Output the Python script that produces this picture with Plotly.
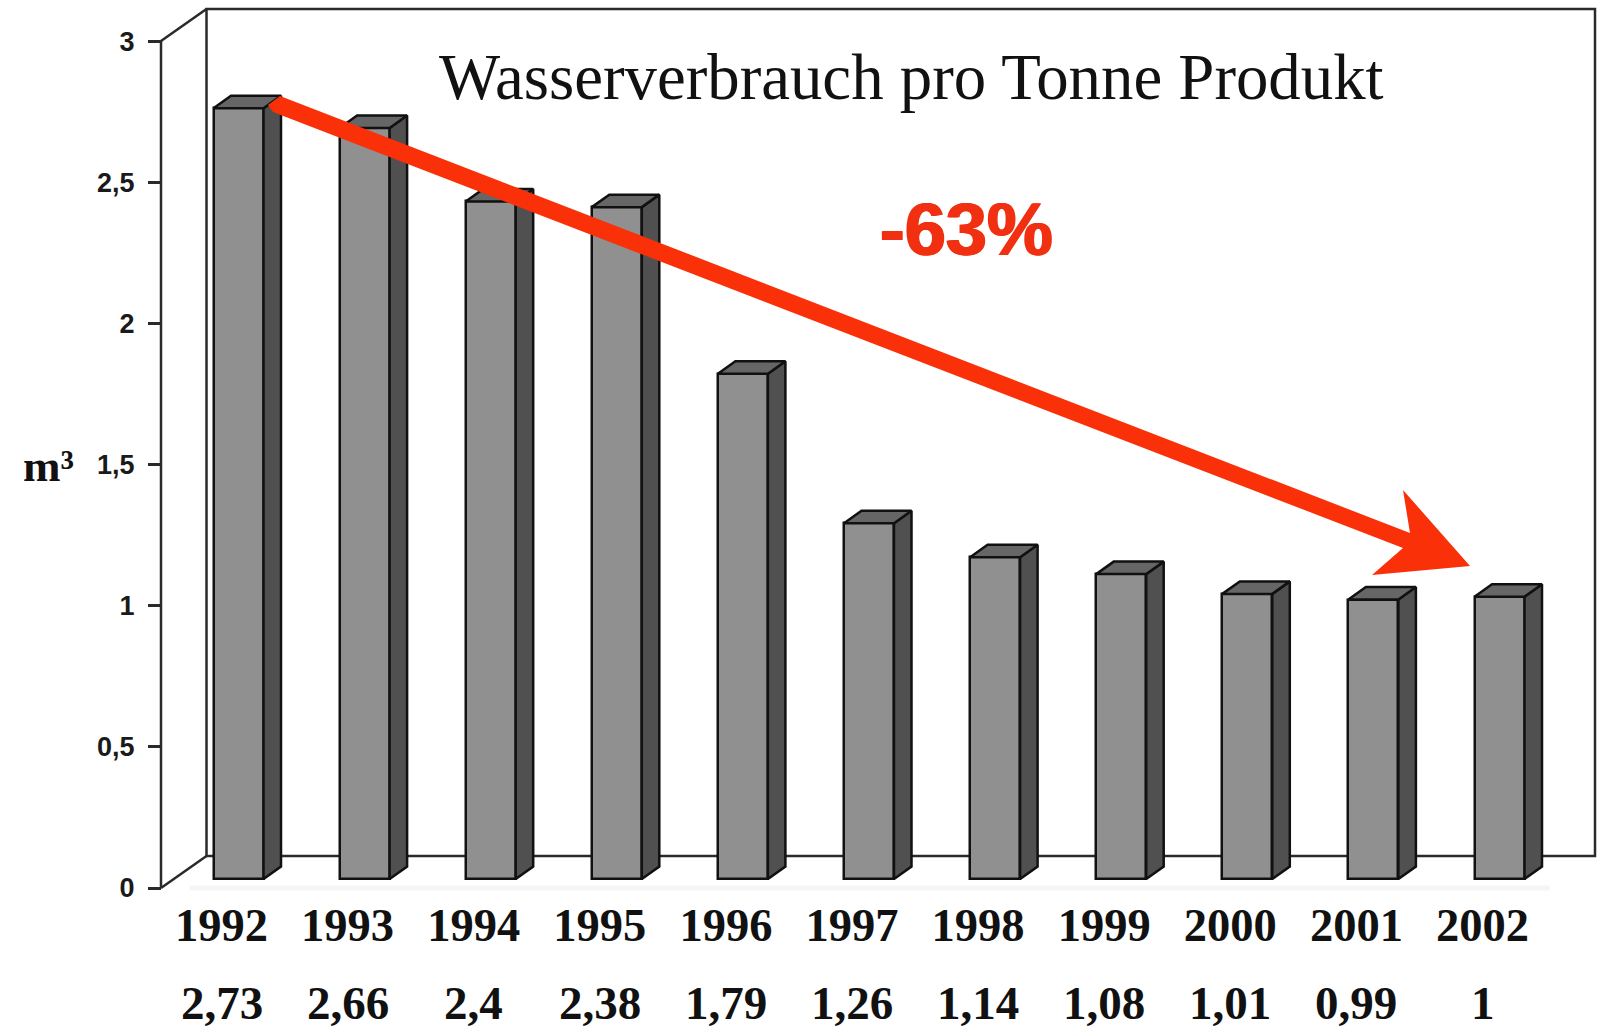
import plotly.graph_objects as go

years = [1992, 1993, 1994, 1995, 1996, 1997, 1998, 1999, 2000, 2001, 2002]
values = [2.73, 2.66, 2.4, 2.38, 1.79, 1.26, 1.14, 1.08, 1.01, 0.99, 1.0]
y_ticks = [0, 0.5, 1, 1.5, 2, 2.5, 3]

W, H = 1597, 1033
PX_PER_YEAR = 126.1
PX_PER_UNIT = 282.3
FIRST_BAR_PX = 238.5
BASE_PX = 879
BAR_W = 50 / PX_PER_YEAR
DX = 17.5 / PX_PER_YEAR
DY = 12.5 / PX_PER_UNIT
LABEL_SHIFT = -17 / PX_PER_YEAR

x0 = years[0] - FIRST_BAR_PX / PX_PER_YEAR
x1 = x0 + W / PX_PER_YEAR
y0 = -(H - BASE_PX) / PX_PER_UNIT
y1 = BASE_PX / PX_PER_UNIT


def fmt(v):
    return f"{v:g}".replace(".", ",")


def px(x):
    return x / W


def py(y):
    return 1 - y / H


fig = go.Figure()

# front faces
fig.add_trace(go.Bar(
    x=years, y=values, width=BAR_W,
    marker=dict(color="#909090", line=dict(color="#111111", width=2.5)),
    hoverinfo="x+y", showlegend=False,
))

# side and top faces derive from the same values
side_x, side_y, top_x, top_y = [], [], [], []
for yr, v in zip(years, values):
    r = yr + BAR_W / 2
    l = yr - BAR_W / 2
    side_x += [r, r + DX, r + DX, r, r, None]
    side_y += [0, DY, v + DY, v, 0, None]
    top_x += [l, l + DX, r + DX, r, l, None]
    top_y += [v, v + DY, v + DY, v, v, None]

for xs, ys, col in ((side_x, side_y, "#505050"), (top_x, top_y, "#666666")):
    fig.add_trace(go.Scatter(
        x=xs, y=ys, mode="lines", fill="toself", fillcolor=col,
        line=dict(color="#111111", width=2.5), hoverinfo="skip", showlegend=False,
    ))

# carries the visible value axis, which sits in front of the bars' floor
fig.add_trace(go.Scatter(
    x=[years[0]], y=[0], yaxis="y2", mode="markers",
    marker=dict(opacity=0), hoverinfo="skip", showlegend=False,
))

LINE = dict(color="#2a2a2a", width=2.5)
shapes = [
    # pale floor shadow
    dict(type="line", xref="paper", yref="paper", layer="below",
         x0=px(190), x1=px(1550), y0=py(888), y1=py(888),
         line=dict(color="#f5f5f5", width=5)),
    # back wall
    dict(type="path", xref="paper", yref="paper", layer="below",
         path=f"M {px(206.5)} {py(856)} L {px(206.5)} {py(9)} L {px(1595)} {py(9)} "
              f"L {px(1595)} {py(856)} Z",
         line=LINE),
    # side wall diagonals
    dict(type="line", xref="paper", yref="paper", layer="below",
         x0=px(161), x1=px(206.5), y0=py(41), y1=py(9), line=LINE),
    dict(type="line", xref="paper", yref="paper", layer="below",
         x0=px(161), x1=px(206.5), y0=py(888), y1=py(856), line=LINE),
    dict(type="line", xref="paper", yref="paper", layer="below",
         x0=px(161), x1=px(161), y0=py(888), y1=py(41), line=LINE),
]

arrow = [(280, 96), (1410, 533), (1403, 490), (1470, 566), (1372, 575),
         (1403, 548), (273, 112), (268, 105)]
shapes.append(dict(
    type="path", xref="paper", yref="paper", layer="above",
    path="M " + " L ".join(f"{px(a)} {py(b)}" for a, b in arrow) + " Z",
    fillcolor="#f93008", line=dict(width=0),
))

annotations = [
    dict(text="Wasserverbrauch pro Tonne Produkt", xref="paper", yref="paper",
         x=px(911), y=py(77), showarrow=False, xanchor="center", yanchor="middle",
         font=dict(family="Liberation Serif", size=64.8, color="#111111")),
    dict(text="<b>-63%</b>", xref="paper", yref="paper",
         x=px(966), y=py(229), showarrow=False, xanchor="center", yanchor="middle",
         font=dict(family="Liberation Sans", size=74, color="#f03010",
                   shadow="1px 0 0 #f03010, -1px 0 0 #f03010")),
    dict(text="<b>m³</b>", xref="paper", yref="paper",
         x=px(48), y=py(466), showarrow=False, xanchor="center", yanchor="middle",
         font=dict(family="Liberation Serif", size=45, color="#111111")),
]
for yr, v in zip(years, values):
    annotations.append(dict(
        text=f"<b>{fmt(v)}</b>", xref="x", yref="paper",
        x=yr + LABEL_SHIFT, y=py(1003), showarrow=False,
        xanchor="center", yanchor="middle",
        font=dict(family="Liberation Serif", size=47, color="#111111"),
    ))

fig.update_layout(
    width=W, height=H, autosize=False,
    margin=dict(l=0, r=0, t=0, b=0),
    paper_bgcolor="white", plot_bgcolor="rgba(0,0,0,0)",
    showlegend=False, bargap=0,
    xaxis=dict(
        range=[x0, x1], domain=[0, 1], anchor="free", position=py(893),
        tickvals=[yr + LABEL_SHIFT for yr in years],
        ticktext=[f"<b>{yr}</b>" for yr in years],
        tickfont=dict(family="Liberation Serif", size=46.5, color="#111111"),
        ticks="", showgrid=False, zeroline=False, showline=False, tickangle=0,
    ),
    yaxis=dict(range=[y0, y1], domain=[0, 1], visible=False, fixedrange=True),
    yaxis2=dict(
        overlaying="y", domain=[0, 1], anchor="free", side="left",
        position=px(161),
        range=[-(H - 888) / PX_PER_UNIT, 888 / PX_PER_UNIT],
        tickvals=y_ticks, ticktext=[f"<b>{fmt(t)}</b>" for t in y_ticks],
        tickfont=dict(family="Liberation Sans", size=27, color="#1a1a1a"),
        ticks="outside", ticklen=13, tickwidth=2.5, tickcolor="#2a2a2a",
        ticklabelstandoff=8,
        showgrid=False, zeroline=False, showline=False,
    ),
    shapes=shapes,
    annotations=annotations,
)

fig.write_html("out.html", config=dict(displayModeBar=False),
               post_script="document.body.style.margin='0';document.body.style.overflow='hidden';")
